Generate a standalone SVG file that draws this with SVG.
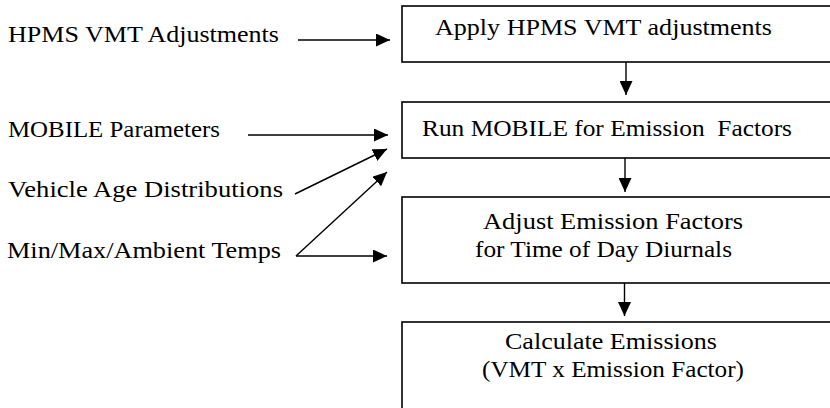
<svg xmlns="http://www.w3.org/2000/svg" width="830" height="408" viewBox="0 0 830 408">
<style>
  text { font-family: "Liberation Serif", "Times New Roman", serif; font-size: 22.6px; fill: #000; }
  .box { fill: #fff; stroke: #000; stroke-width: 1.6; }
  .conn { stroke: #000; stroke-width: 1.4; fill: none; }
</style>
<defs>
  <marker id="ah" markerUnits="userSpaceOnUse" markerWidth="15" markerHeight="13" refX="14" refY="6.5" orient="auto">
    <path d="M0,0 L14,6.5 L0,13 z" fill="#000"/>
  </marker>
</defs>
<rect width="830" height="408" fill="#fff"/>
<g id="n1">
  <rect class="box" x="402" y="6" width="500" height="56"/>
  <text x="435" y="35" textLength="337" lengthAdjust="spacingAndGlyphs">Apply HPMS VMT adjustments</text>
</g>
<g id="n2">
  <rect class="box" x="402" y="102" width="500" height="56"/>
  <text x="422" y="136" textLength="370" lengthAdjust="spacingAndGlyphs" xml:space="preserve">Run MOBILE for Emission  Factors</text>
</g>
<g id="n3">
  <rect class="box" x="402" y="197" width="500" height="86"/>
  <text x="483" y="229" textLength="260" lengthAdjust="spacingAndGlyphs">Adjust Emission Factors</text>
  <text x="475" y="257" textLength="257" lengthAdjust="spacingAndGlyphs">for Time of Day Diurnals</text>
</g>
<g id="n4">
  <rect class="box" x="402" y="322" width="500" height="120"/>
  <text x="505" y="349" textLength="212" lengthAdjust="spacingAndGlyphs">Calculate Emissions</text>
  <text x="482" y="377" textLength="262" lengthAdjust="spacingAndGlyphs">(VMT x Emission Factor)</text>
</g>
<g id="in1"><text x="8" y="42" textLength="271" lengthAdjust="spacingAndGlyphs">HPMS VMT Adjustments</text></g>
<g id="in2"><text x="8" y="137" textLength="212" lengthAdjust="spacingAndGlyphs">MOBILE Parameters</text></g>
<g id="in3"><text x="8" y="197" textLength="275" lengthAdjust="spacingAndGlyphs">Vehicle Age Distributions</text></g>
<g id="in4"><text x="7" y="258" textLength="274" lengthAdjust="spacingAndGlyphs">Min/Max/Ambient Temps</text></g>
<g id="connectors">
  <line class="conn" x1="298" y1="40" x2="390" y2="40" marker-end="url(#ah)"/>
  <line class="conn" x1="248" y1="135" x2="388" y2="135" marker-end="url(#ah)"/>
  <line class="conn" x1="295" y1="194" x2="387" y2="149" marker-end="url(#ah)"/>
  <line class="conn" x1="296" y1="256" x2="387" y2="172" marker-end="url(#ah)"/>
  <line class="conn" x1="296" y1="256" x2="387" y2="256" marker-end="url(#ah)"/>
  <line class="conn" x1="626" y1="62" x2="626" y2="95" marker-end="url(#ah)"/>
  <line class="conn" x1="625" y1="158" x2="625" y2="192" marker-end="url(#ah)"/>
  <line class="conn" x1="624.5" y1="283" x2="624.5" y2="316" marker-end="url(#ah)"/>
</g>
</svg>
